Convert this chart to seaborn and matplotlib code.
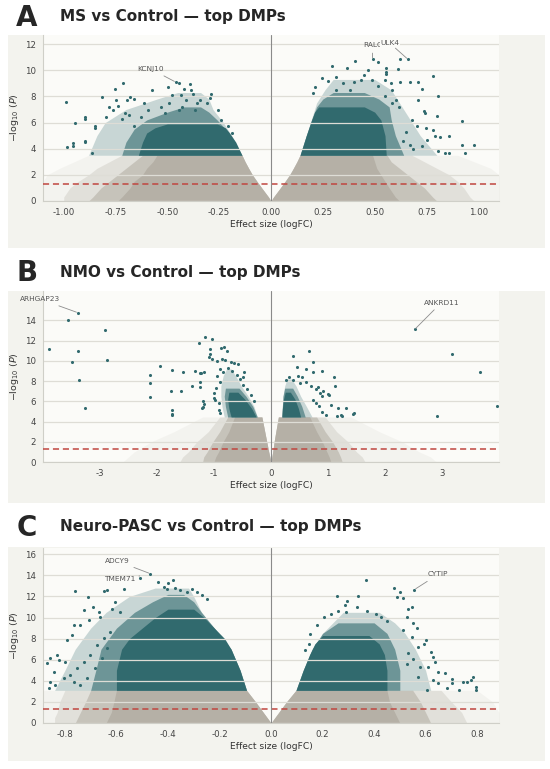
import numpy as np
import matplotlib.pyplot as plt
from matplotlib.patches import Rectangle
import seaborn as sns

# -------------------------
# COLOURS
# -------------------------
TEAL = "#316a6e"
GREY = "#b5b0a6"
BOX_BG = "#f3f3ee"
AX_BG = "#fbfbf8"
THR_RED = "#c0463f"

# density of each envelope layer (outer -> inner)
GREY_ALPHAS = [0.1, 0.28, 0.6, 1.0]
TEAL_ALPHAS = [0.25, 0.6, 1.0]

# -------------------------
# PANEL A : MS vs Control
# -------------------------
a_title = "MS vs Control — top DMPs"
a_xticks = [-1.0, -0.75, -0.5, -0.25, 0.0, 0.25, 0.5, 0.75, 1.0]
a_yticks = [0, 2, 4, 6, 8, 10, 12]

# grey (non significant) cloud envelopes per -log10(P) level
a_grey_y = [0, 0.3, 1, 1.5, 2, 2.5, 3, 3.5]
a_grey_l_inner = [0, -0.012, -0.045, -0.068, -0.09, -0.108, -0.125, -0.14]
a_grey_l_edges = [[-1.10, -1.10, -1.10, -1.10, -1.08, -1.02, -0.95, -0.88],
                  [-1.00, -1.00, -0.97, -0.93, -0.88, -0.84, -0.78, -0.72],
                  [-0.88, -0.86, -0.82, -0.78, -0.74, -0.70, -0.66, -0.62],
                  [-0.74, -0.72, -0.68, -0.66, -0.62, -0.60, -0.57, -0.55]]
a_grey_r_inner = [0, 0.012, 0.045, 0.068, 0.09, 0.108, 0.125, 0.14]
a_grey_r_edges = [[1.10, 1.10, 1.10, 1.10, 1.10, 1.06, 0.98, 0.90],
                  [0.98, 0.96, 0.93, 0.90, 0.86, 0.80, 0.74, 0.68],
                  [0.80, 0.78, 0.74, 0.70, 0.66, 0.62, 0.58, 0.56],
                  [0.62, 0.60, 0.57, 0.55, 0.53, 0.51, 0.50, 0.49]]

# teal (top DMP) cloud: sparse, medium and solid layers
a_teal_l1_y = [3.5, 5, 6, 7, 7.8, 8.3]
a_teal_l1_x0 = [-0.88, -0.84, -0.80, -0.70, -0.55, -0.45]
a_teal_l1_x1 = [-0.14, -0.19, -0.23, -0.28, -0.30, -0.34]
a_teal_l2_y = [3.5, 4.5, 5.5, 6.2, 6.8, 7.2]
a_teal_l2_x0 = [-0.72, -0.70, -0.66, -0.60, -0.50, -0.42]
a_teal_l2_x1 = [-0.14, -0.18, -0.22, -0.26, -0.30, -0.34]
a_teal_l3_y = [3.5, 4.5, 5.2, 5.6, 5.9]
a_teal_l3_x0 = [-0.64, -0.62, -0.60, -0.56, -0.50]
a_teal_l3_x1 = [-0.14, -0.17, -0.20, -0.22, -0.26]
a_teal_r1_y = [3.5, 5, 6.5, 7.5, 8.5, 9.3]
a_teal_r1_x0 = [0.14, 0.17, 0.20, 0.22, 0.26, 0.30]
a_teal_r1_x1 = [0.80, 0.72, 0.66, 0.62, 0.58, 0.50]
a_teal_r2_y = [3.5, 5, 6.2, 7.2, 7.8, 8.3]
a_teal_r2_x0 = [0.14, 0.17, 0.196, 0.22, 0.25, 0.30]
a_teal_r2_x1 = [0.64, 0.60, 0.58, 0.57, 0.52, 0.45]
a_teal_r3_y = [3.5, 5, 6.2, 6.8, 7.2]
a_teal_r3_x0 = [0.14, 0.17, 0.196, 0.21, 0.23]
a_teal_r3_x1 = [0.556, 0.55, 0.53, 0.50, 0.45]

# scattered significant probes
a_pts_x = [-0.987, -0.957, -0.957, -0.982, -0.944, -0.898, -0.898, -0.896, -0.896, -0.864,
           -0.814, -0.85, -0.85, -0.797, -0.751, -0.713, -0.78, -0.76, -0.738, -0.746,
           -0.696, -0.679, -0.662, -0.72, -0.686, -0.703, -0.574, -0.497, -0.46, -0.443,
           -0.392, -0.418, -0.477, -0.435, -0.384, -0.376, -0.291, -0.295, -0.308, -0.359,
           -0.342, -0.367, -0.41, -0.428, -0.445, -0.53, -0.51, -0.49, -0.594, -0.628,
           -0.662, -0.612, -0.207, -0.224, -0.190, -0.173, -0.257, -0.241,
           0.296, 0.404, 0.367, 0.468, 0.518, 0.49, 0.557, 0.557, 0.557, 0.611,
           0.62, 0.66, 0.62, 0.67, 0.71, 0.729, 0.78, 0.805, 0.80, 0.923,
           0.86, 0.813, 0.923, 0.977, 0.736, 0.745, 0.71, 0.75, 0.78, 0.79,
           0.755, 0.73, 0.805, 0.84, 0.86, 0.937, 0.636, 0.67, 0.687, 0.653,
           0.703, 0.678, 0.248, 0.274, 0.316, 0.349, 0.40, 0.434, 0.451, 0.485,
           0.518, 0.551, 0.577, 0.585, 0.213, 0.205, 0.383, 0.316, 0.602, 0.619,
           0.585, 0.551]
a_pts_y = [7.6, 4.47, 4.2, 4.1, 5.95, 6.4, 6.25, 4.6, 4.55, 3.7,
           7.96, 5.6, 5.7, 6.45, 8.6, 9.0, 7.2, 6.96, 7.3, 7.75,
           7.75, 7.95, 7.8, 6.3, 6.6, 6.7, 8.5, 8.7, 9.1, 9.05,
           8.98, 8.55, 8.1, 8.1, 8.5, 8.2, 8.2, 7.86, 7.48, 7.5,
           7.7, 6.97, 7.7, 7.2, 6.96, 7.2, 6.7, 7.5, 6.96, 6.45,
           5.7, 7.5, 5.7, 4.7, 5.2, 4.2, 6.96, 6.2,
           10.36, 10.74, 10.15, 10.0, 10.6, 10.85, 10.2, 9.9, 9.7, 10.1,
           10.85, 10.85, 9.1, 9.1, 9.1, 8.55, 9.6, 8.0, 6.5, 6.1,
           5.0, 4.9, 4.3, 4.3, 6.9, 6.7, 7.7, 5.6, 5.4, 5.0,
           4.7, 4.2, 3.8, 3.7, 3.7, 3.7, 4.6, 4.3, 3.95, 5.3,
           5.7, 6.2, 9.4, 9.2, 9.5, 9.0, 9.1, 9.25, 9.65, 9.25,
           8.8, 9.25, 9.0, 8.5, 8.75, 8.25, 8.5, 8.5, 7.7, 7.2,
           7.5, 8.0]

a_genes = ["KCNJ10", "RALC", "ULK4"]
a_gene_x = [-0.46, 0.49, 0.66]
a_gene_y = [9.1, 10.85, 10.85]
a_lab_x = [-0.58, 0.49, 0.575]
a_lab_y = [10.1, 11.9, 12.05]

# -------------------------
# PANEL B : NMO vs Control
# -------------------------
b_title = "NMO vs Control — top DMPs"
b_xticks = [-3, -2, -1, 0, 1, 2, 3]
b_yticks = [0, 2, 4, 6, 8, 10, 12, 14]

b_grey_y = [0, 0.5, 1, 2, 3, 4.45]
b_grey_l_inner = [0, -0.02, -0.04, -0.075, -0.11, -0.16]
b_grey_l_edges = [[-2.6, -2.5, -2.4, -2.1, -1.7, -1.2],
                  [-1.6, -1.55, -1.45, -1.3, -1.1, -0.9],
                  [-1.2, -1.18, -1.12, -1.02, -0.9, -0.76],
                  [-1.0, -0.97, -0.92, -0.84, -0.74, -0.64]]
b_grey_r_inner = [0, 0.015, 0.03, 0.055, 0.085, 0.13]
b_grey_r_edges = [[2.9, 2.8, 2.6, 2.3, 1.9, 1.4],
                  [1.65, 1.6, 1.5, 1.35, 1.15, 0.95],
                  [1.25, 1.22, 1.18, 1.08, 0.95, 0.80],
                  [1.05, 1.02, 0.98, 0.90, 0.80, 0.68]]

b_teal_l1_y = [4.45, 5.5, 6.5, 7.5, 8.5, 9.2]
b_teal_l1_x0 = [-0.82, -0.86, -0.88, -0.88, -0.84, -0.78]
b_teal_l1_x1 = [-0.24, -0.30, -0.40, -0.52, -0.62, -0.70]
b_teal_l2_y = [4.45, 5.5, 6.5, 7.3]
b_teal_l2_x0 = [-0.76, -0.80, -0.82, -0.80]
b_teal_l2_x1 = [-0.24, -0.32, -0.44, -0.56]
b_teal_l3_y = [4.45, 5.3, 6.2, 6.9]
b_teal_l3_x0 = [-0.70, -0.74, -0.76, -0.74]
b_teal_l3_x1 = [-0.26, -0.34, -0.46, -0.58]
b_teal_r1_y = [4.45, 5.5, 6.5, 7.5, 8.2]
b_teal_r1_x0 = [0.19, 0.20, 0.21, 0.24, 0.28]
b_teal_r1_x1 = [0.72, 0.62, 0.52, 0.44, 0.36]
b_teal_r2_y = [4.45, 5.5, 6.5, 7.3]
b_teal_r2_x0 = [0.19, 0.20, 0.21, 0.24]
b_teal_r2_x1 = [0.60, 0.54, 0.46, 0.38]
b_teal_r3_y = [4.45, 5.3, 6.2, 6.9]
b_teal_r3_x0 = [0.19, 0.20, 0.22, 0.25]
b_teal_r3_x1 = [0.52, 0.48, 0.42, 0.34]

b_pts_x = [-3.39, -3.57, -3.89, -3.38, -3.50, -3.36, -3.27, -2.92, -2.88,
           -1.95, -2.13, -2.13, -2.13, -1.74, -1.76, -1.73, -1.73, -1.73, -1.55, -1.58,
           -1.34, -1.38, -1.22, -1.26, -1.16, -1.03, -1.20, -1.20, -1.07, -1.07, -0.88, -0.82,
           -1.09, -1.03, -0.95, -0.86, -0.80, -0.71, -0.65, -0.58, -0.47, -0.49,
           -1.18, -1.24, -1.24, -1.25, -1.21, -1.18, -1.00, -0.98, -0.92, -0.92, -0.89, -0.78,
           -0.90, -0.85, -0.95, -0.75, -0.68, -0.60, -0.55, -0.90, -0.97, -1.00, -0.50, -0.42,
           -0.35, -0.30,
           2.52, 3.17, 3.66, 3.97, 2.91,
           0.38, 0.67, 0.73, 0.89, 1.11, 1.13, 1.00, 1.18, 1.31, 1.45, 1.15, 1.24,
           0.83, 0.92, 1.22, 1.44, 0.45, 0.62, 0.55, 0.73, 0.48, 0.26, 0.32, 0.39, 0.50,
           0.62, 0.70, 0.79, 0.86, 0.90, 1.02, 0.79, 0.85, 0.90, 0.96, 0.73, 1.06]
b_pts_y = [14.76, 14.03, 11.19, 10.96, 9.90, 8.08, 5.30, 13.0, 10.13,
           9.47, 8.6, 7.8, 6.45, 9.14, 6.98, 5.1, 4.75, 4.6, 8.89, 6.98,
           8.99, 7.5, 8.8, 11.79, 12.35, 12.18, 6.0, 5.4, 11.2, 10.7, 11.3, 11.4,
           10.4, 10.2, 10.0, 10.2, 10.1, 9.9, 9.75, 9.7, 8.9, 8.4,
           8.9, 8.8, 7.9, 7.4, 5.3, 5.75, 6.3, 6.1, 5.8, 5.1, 4.8, 11.0,
           9.2, 8.9, 8.5, 9.3, 9.0, 8.6, 8.2, 7.9, 7.3, 6.8, 7.6, 7.2,
           6.6, 6.0,
           13.1, 10.63, 8.91, 5.56, 4.53,
           10.46, 10.96, 9.87, 9.0, 8.42, 7.53, 6.7, 5.3, 5.3, 4.83, 4.5, 4.5,
           7.4, 7.0, 4.6, 4.75, 9.4, 9.2, 8.4, 8.9, 8.5, 8.1, 8.4, 8.1, 7.8,
           7.95, 7.5, 7.2, 6.8, 6.5, 6.6, 5.8, 5.5, 4.9, 4.6, 6.15, 5.67]

b_genes = ["ARHGAP23", "ANKRD11"]
b_gene_x = [-3.39, 2.52]
b_gene_y = [14.76, 13.1]
b_lab_x = [-4.05, 2.99]
b_lab_y = [16.1, 15.76]

# -------------------------
# PANEL C : Neuro-PASC vs Control
# -------------------------
c_title = "Neuro-PASC vs Control — top DMPs"
c_xticks = [-0.8, -0.6, -0.4, -0.2, 0.0, 0.2, 0.4, 0.6, 0.8]
c_yticks = [0, 2, 4, 6, 8, 10, 12, 14, 16]

c_grey_y = [0, 0.5, 1, 2, 3.1]
c_grey_l_inner = [0, -0.015, -0.03, -0.06, -0.095]
c_grey_l_edges = [[-0.885, -0.885, -0.885, -0.885, -0.885],
                  [-0.84, -0.84, -0.83, -0.82, -0.80],
                  [-0.76, -0.75, -0.74, -0.72, -0.70],
                  [-0.64, -0.63, -0.62, -0.61, -0.60]]
c_grey_r_inner = [0, 0.015, 0.03, 0.06, 0.097]
c_grey_r_edges = [[0.885, 0.885, 0.885, 0.86, 0.80],
                  [0.76, 0.75, 0.74, 0.70, 0.66],
                  [0.62, 0.61, 0.60, 0.58, 0.55],
                  [0.50, 0.49, 0.48, 0.46, 0.45]]

c_teal_l1_y = [3.1, 5, 7, 9, 10.5, 12, 12.8]
c_teal_l1_x0 = [-0.84, -0.80, -0.76, -0.70, -0.64, -0.55, -0.45]
c_teal_l1_x1 = [-0.095, -0.12, -0.155, -0.22, -0.27, -0.30, -0.32]
c_teal_l2_y = [3.1, 5, 7, 9, 10.5, 11.5, 12.2]
c_teal_l2_x0 = [-0.70, -0.68, -0.66, -0.60, -0.53, -0.46, -0.40]
c_teal_l2_x1 = [-0.095, -0.12, -0.155, -0.22, -0.27, -0.30, -0.34]
c_teal_l3_y = [3.1, 5, 7, 8, 9, 10, 10.8]
c_teal_l3_x0 = [-0.60, -0.60, -0.58, -0.55, -0.50, -0.45, -0.40]
c_teal_l3_x1 = [-0.095, -0.12, -0.155, -0.18, -0.22, -0.26, -0.30]
c_teal_r1_y = [3.1, 5, 7, 8.5, 9.5, 10.5]
c_teal_r1_x0 = [0.097, 0.125, 0.16, 0.20, 0.24, 0.28]
c_teal_r1_x1 = [0.62, 0.60, 0.56, 0.52, 0.48, 0.42]
c_teal_r2_y = [3.1, 5, 7, 8.5, 9.5]
c_teal_r2_x0 = [0.097, 0.125, 0.16, 0.20, 0.26]
c_teal_r2_x1 = [0.50, 0.50, 0.48, 0.45, 0.40]
c_teal_r3_y = [3.1, 5, 6.5, 7.5, 8.3]
c_teal_r3_x0 = [0.097, 0.125, 0.15, 0.17, 0.20]
c_teal_r3_x1 = [0.45, 0.45, 0.44, 0.42, 0.38]

c_pts_x = [-0.76, -0.712, -0.65, -0.637, -0.572, -0.508, -0.469,
           -0.437, -0.417, -0.398, -0.379, -0.404, -0.372, -0.353, -0.327, -0.307, -0.288,
           -0.268, -0.249, -0.689, -0.669, -0.663, -0.708, -0.727, -0.74, -0.766, -0.772,
           -0.792, -0.857, -0.869, -0.831, -0.824, -0.798, -0.844, -0.857, -0.837, -0.863,
           -0.805, -0.779, -0.753, -0.727, -0.702, -0.676, -0.65, -0.624, -0.637, -0.656,
           -0.682, -0.714, -0.74, -0.766, -0.617, -0.605, -0.585,
           0.557, 0.368, 0.479, 0.50, 0.511, 0.489, 0.255, 0.336, 0.295, 0.288,
           0.533, 0.546, 0.526, 0.552, 0.565, 0.595, 0.60, 0.62, 0.63, 0.636,
           0.61, 0.65, 0.677, 0.704, 0.684, 0.73, 0.785, 0.778, 0.797, 0.795,
           0.76, 0.746, 0.704, 0.526, 0.552, 0.578, 0.63, 0.572, 0.604, 0.65,
           0.546, 0.513, 0.572, 0.533, 0.153, 0.178, 0.205, 0.231, 0.26, 0.292,
           0.333, 0.374, 0.406, 0.426, 0.45, 0.133, 0.146]
c_pts_y = [12.53, 11.96, 12.5, 12.6, 12.7, 13.76, 14.17,
           13.38, 12.9, 13.3, 13.6, 12.75, 12.8, 12.6, 12.4, 12.7, 12.4,
           12.1, 11.8, 11.0, 10.5, 10.1, 9.75, 10.7, 9.28, 9.28, 8.33,
           7.86, 6.13, 5.65, 6.44, 5.97, 5.8, 4.86, 3.91, 3.6, 3.28,
           4.23, 4.55, 5.18, 5.8, 6.44, 7.39, 8.02, 8.65, 7.07, 6.13,
           5.18, 4.23, 3.6, 3.91, 10.86, 11.49, 10.54,
           12.66, 13.6, 12.85, 12.4, 11.9, 11.95, 12.0, 12.0, 11.6, 11.2,
           10.86, 11.0, 10.1, 9.5, 9.0, 7.54, 7.9, 6.75, 6.28, 5.8,
           5.33, 4.85, 4.7, 3.75, 3.28, 3.12, 4.4, 4.1, 3.44, 3.12,
           3.9, 3.9, 4.2, 5.64, 6.1, 5.33, 4.1, 4.4, 3.12, 3.75,
           8.2, 8.8, 7.2, 6.6, 8.45, 9.25, 10.03, 10.35, 10.66, 10.5,
           10.97, 10.66, 10.35, 10.03, 9.7, 6.9, 7.5]

c_genes = ["ADCY9", "TMEM71", "CYTIP"]
c_gene_x = [-0.469, -0.51, 0.557]
c_gene_y = [14.17, 13.95, 12.66]
c_lab_x = [-0.598, -0.586, 0.649]
c_lab_y = [15.37, 13.7, 14.1]

# -------------------------
# FIGURE
# -------------------------
sns.set_style("white")
plt.rcParams['font.family'] = ['DejaVu Sans']

fig = plt.figure(figsize=(5.5, 7.69), dpi=100)
W, H = 550.0, 769.0


def draw_panel(letter, title, box_top, box_bot, ax_top, ax_bot, head_y,
               xlim, ylim, xticks, yticks, tickfmt,
               grey_y, l_inner, l_edges, r_inner, r_edges, teal_layers,
               pts_x, pts_y, genes, gx, gy, lx, ly):
    # light panel box + headings
    fig.patches.append(Rectangle((8 / W, 1 - box_bot / H), 537 / W, (box_bot - box_top) / H,
                                 transform=fig.transFigure, facecolor=BOX_BG,
                                 edgecolor='none', zorder=-1))
    fig.text(27 / W, 1 - head_y / H, letter, fontsize=20, fontweight='bold',
             ha='center', va='center')
    fig.text(60 / W, 1 - (head_y - 1) / H, title, fontsize=11, fontweight='bold',
             ha='left', va='center')

    ax = fig.add_axes([43 / W, 1 - ax_bot / H, 456 / W, (ax_bot - ax_top) / H])
    ax.set_facecolor(AX_BG)

    # grey cloud, outer sparse layers first
    for edge, alpha in zip(l_edges, GREY_ALPHAS):
        ax.fill_betweenx(grey_y, l_inner, edge, color=GREY, alpha=alpha, lw=0)
    for edge, alpha in zip(r_edges, GREY_ALPHAS):
        ax.fill_betweenx(grey_y, r_inner, edge, color=GREY, alpha=alpha, lw=0)

    # teal cloud
    for (ty, t0, t1), alpha in teal_layers:
        ax.fill_betweenx(ty, t0, t1, color=TEAL, alpha=alpha, lw=0)

    sns.scatterplot(x=pts_x, y=pts_y, ax=ax, color=TEAL, s=5, linewidth=0,
                    legend=False, zorder=2)

    ax.axhline(-np.log10(0.05), color=THR_RED, lw=1.1, ls=(0, (4, 2.5)), zorder=3)
    ax.axvline(0, color='#8a8a8a', lw=0.8, zorder=3)

    for g, px, py, tx, ty in zip(genes, gx, gy, lx, ly):
        bbox = dict(boxstyle='square,pad=0.1', fc=AX_BG, ec='none') if g == "ULK4" else None
        ax.annotate(g, xy=(px, py), xytext=(tx, ty), fontsize=5.3, color='#555555',
                    ha='center', va='center', bbox=bbox, zorder=5,
                    arrowprops=dict(arrowstyle='-', color='#8c8c8c', lw=0.6,
                                    shrinkA=1, shrinkB=1))

    ax.set_xlim(*xlim)
    ax.set_ylim(*ylim)
    ax.set_xticks(xticks)
    ax.set_xticklabels([tickfmt.format(v) for v in xticks])
    ax.set_yticks(yticks)
    ax.yaxis.grid(True, color='#deddd6', lw=0.9)
    ax.xaxis.grid(False)
    ax.set_axisbelow('line')
    ax.tick_params(axis='both', labelsize=6.2, labelcolor='#444444', color='#999999',
                   length=3, width=0.6, pad=2)
    for side in ['top', 'right']:
        ax.spines[side].set_visible(False)
    for side in ['left', 'bottom']:
        ax.spines[side].set_color('#cfcfc8')
        ax.spines[side].set_linewidth(0.8)
    ax.set_xlabel('Effect size (logFC)', fontsize=6.6, color='#333333', labelpad=2)
    ax.set_ylabel(r'$-\log_{10}\,(P)$', fontsize=6.8, color='#333333', labelpad=3)
    return ax


def teal_set(l1, l2, l3, r1, r2, r3):
    return list(zip([l1, l2, l3, r1, r2, r3], TEAL_ALPHAS + TEAL_ALPHAS))


draw_panel("A", a_title, 35, 248, 35, 201, 18, (-1.1, 1.1), (0, 12.7),
           a_xticks, a_yticks, "{:.2f}",
           a_grey_y, a_grey_l_inner, a_grey_l_edges, a_grey_r_inner, a_grey_r_edges,
           teal_set((a_teal_l1_y, a_teal_l1_x0, a_teal_l1_x1),
                    (a_teal_l2_y, a_teal_l2_x0, a_teal_l2_x1),
                    (a_teal_l3_y, a_teal_l3_x0, a_teal_l3_x1),
                    (a_teal_r1_y, a_teal_r1_x0, a_teal_r1_x1),
                    (a_teal_r2_y, a_teal_r2_x0, a_teal_r2_x1),
                    (a_teal_r3_y, a_teal_r3_x0, a_teal_r3_x1)),
           a_pts_x, a_pts_y, a_genes, a_gene_x, a_gene_y, a_lab_x, a_lab_y)

draw_panel("B", b_title, 291, 503, 291, 462, 273, (-4.0, 4.0), (0, 16.9),
           b_xticks, b_yticks, "{:.0f}",
           b_grey_y, b_grey_l_inner, b_grey_l_edges, b_grey_r_inner, b_grey_r_edges,
           teal_set((b_teal_l1_y, b_teal_l1_x0, b_teal_l1_x1),
                    (b_teal_l2_y, b_teal_l2_x0, b_teal_l2_x1),
                    (b_teal_l3_y, b_teal_l3_x0, b_teal_l3_x1),
                    (b_teal_r1_y, b_teal_r1_x0, b_teal_r1_x1),
                    (b_teal_r2_y, b_teal_r2_x0, b_teal_r2_x1),
                    (b_teal_r3_y, b_teal_r3_x0, b_teal_r3_x1)),
           b_pts_x, b_pts_y, b_genes, b_gene_x, b_gene_y, b_lab_x, b_lab_y)

draw_panel("C", c_title, 547, 761, 548, 723, 528, (-0.885, 0.885), (0, 16.6),
           c_xticks, c_yticks, "{:.1f}",
           c_grey_y, c_grey_l_inner, c_grey_l_edges, c_grey_r_inner, c_grey_r_edges,
           teal_set((c_teal_l1_y, c_teal_l1_x0, c_teal_l1_x1),
                    (c_teal_l2_y, c_teal_l2_x0, c_teal_l2_x1),
                    (c_teal_l3_y, c_teal_l3_x0, c_teal_l3_x1),
                    (c_teal_r1_y, c_teal_r1_x0, c_teal_r1_x1),
                    (c_teal_r2_y, c_teal_r2_x0, c_teal_r2_x1),
                    (c_teal_r3_y, c_teal_r3_x0, c_teal_r3_x1)),
           c_pts_x, c_pts_y, c_genes, c_gene_x, c_gene_y, c_lab_x, c_lab_y)

fig.savefig("out.png", dpi=100, facecolor='white')
